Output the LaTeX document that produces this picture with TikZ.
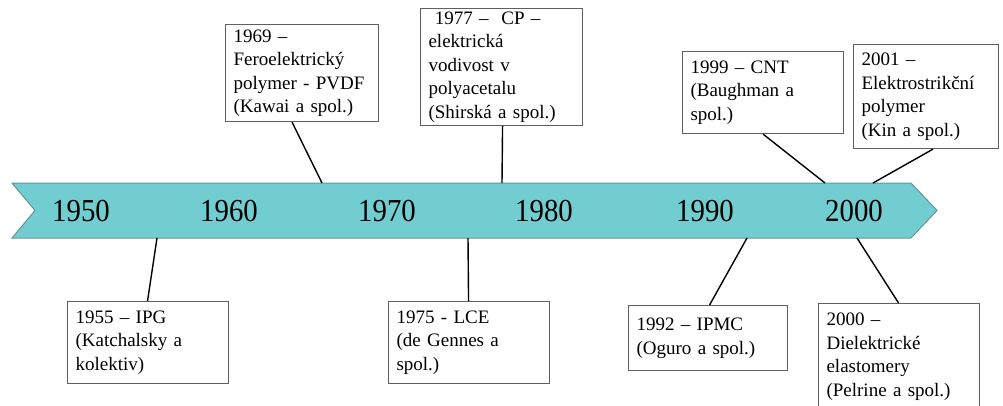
\documentclass[tikz,border=0pt]{standalone}
\usepackage{fontspec}
\setmainfont{Liberation Serif}
\newfontfamily\yearfont[FakeStretch=0.9]{Liberation Serif}
\usetikzlibrary{calc}
\definecolor{arrowfill}{RGB}{114,205,209}
\definecolor{arrowline}{RGB}{100,150,152}
\definecolor{boxline}{RGB}{95,95,95}
\tikzset{
  box/.style={draw=boxline, line width=1.1pt, fill=white, align=left,
    anchor=north west, inner xsep=8pt, inner ysep=0pt,
    font=\fontsize{19}{23.5}\selectfont},
  year/.style={font=\yearfont\fontsize{32}{34}\selectfont, inner sep=0pt},
  conn/.style={draw=black, line width=1.4pt}
}
\begin{document}
\begin{tikzpicture}[x=1pt,y=-1pt]
\clip (0,0) rectangle (1003,405);
\fill[white] (0,0) rectangle (1003,405);
% arrow
\draw[fill=arrowfill, draw=arrowline, line width=1pt]
  (12,183) -- (911,183) -- (937,210.5) -- (911,238) -- (12,238) -- (35,210.5) -- cycle;
% years
\node[year] (y1950) at (81,211) {1950};
\node[year] (y1960) at (229,211) {1960};
\node[year] (y1970) at (387,211) {1970};
\node[year] (y1980) at (544,211) {1980};
\node[year] (y1990) at (705,211) {1990};
\node[year] (y2000) at (854,211) {2000};
% attachment points on the arrow
\coordinate (a1969) at (322,183);
\coordinate (a1977) at (502,183);
\coordinate (a1999) at (825,183);
\coordinate (a2001) at (873,183);
\coordinate (a1955) at (157,238);
\coordinate (a1975) at (468,238);
\coordinate (a1992) at (747,238);
\coordinate (a2000) at (857,238);
% boxes above
\node[box, text width=137pt, minimum height=97pt] (b1969) at (225,24)
  {1969 –\\Feroelektrický\\polymer - PVDF\\(Kawai a spol.)};
\node[box, text width=146pt, minimum height=117pt] (b1977) at (420,8)
  {\ 1977 – \ CP –\\elektrická\\vodivost v\\polyacetalu\\(Shirská a spol.)};
\node[box, text width=145pt, minimum height=82pt] (b1999) at (682,51)
  {1999 – CNT\\(Baughman a\\spol.)};
\node[box, text width=129pt, minimum height=104pt] (b2001) at (853,44)
  {2001 –\\Elektrostrikční\\polymer\\(Kin a spol.)};
% boxes below
\node[box, text width=145pt, minimum height=82pt] (b1955) at (67,301)
  {1955 – IPG\\(Katchalsky a\\kolektiv)};
\node[box, text width=145pt, minimum height=82pt] (b1975) at (388,301)
  {1975 - LCE\\(de Gennes a\\spol.)};
\node[box, text width=143pt, minimum height=65pt] (b1992) at (628,305)
  {1992 – IPMC\\(Oguro a spol.)};
\node[box, text width=145pt, minimum height=106pt] (b2000) at (818,303)
  {2000 –\\Dielektrické\\elastomery\\(Pelrine a spol.)};
% connectors
\draw[conn] ($(b1969.south)+(-10,0)$) -- (a1969);
\draw[conn] ($(b1977.south)+(1,0)$) -- (a1977);
\draw[conn] ($(b1999.south)+(0,0)$) -- (a1999);
\draw[conn] ($(b2001.south)+(7,0)$) -- (a2001);
\draw[conn] ($(b1955.north)+(-0.5,0)$) -- (a1955);
\draw[conn] ($(b1975.north)+(-0.5,0)$) -- (a1975);
\draw[conn] ($(b1992.north)+(1.5,0)$) -- (a1992);
\draw[conn] ($(b2000.north)+(-0.5,0)$) -- (a2000);
\end{tikzpicture}
\end{document}
